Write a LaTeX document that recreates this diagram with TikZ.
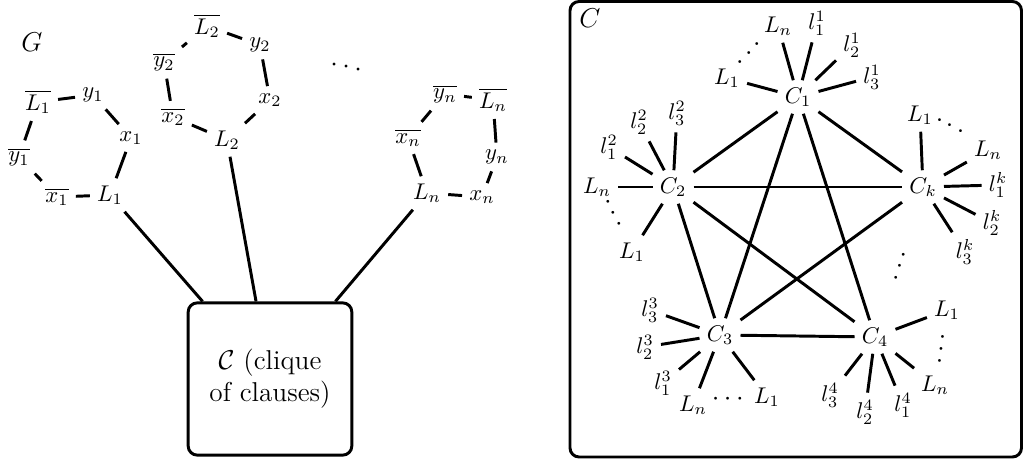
\documentclass[tikz,border=0pt]{standalone}
\usepackage{amsmath,amssymb}
\tikzset{
 lit/.style={inner sep=3pt},
 clause/.style={inner sep=3pt},
 big/.style={font=\large,inner sep=1pt},
 link/.style={line width=1.3pt},
 frame/.style={draw,rounded corners=4pt,line width=1.3pt},
 dotrow/.style={font=\large,inner sep=0pt},
}

\begin{document}
\begin{tikzpicture}[x=0.44pt,y=-0.44pt]
\useasboundingbox (0,0) rectangle (1024,461);

% variable gadgets
\node[big] at (32,42) {$G$};
\node[lit] (nl1) at (38,102) {$\overline{L_1}$};
\node[lit] (y1) at (93,95) {$y_1$};
\node[lit] (x1) at (131,138) {$x_1$};
\node[lit] (l1) at (110,195) {$L_1$};
\node[lit] (nx1) at (57,197) {$\overline{x_1}$};
\node[lit] (ny1) at (19,157) {$\overline{y_1}$};

\node[lit] (nl2) at (207,26) {$\overline{L_2}$};
\node[lit] (y2) at (260,45) {$y_2$};
\node[lit] (x2) at (270,100) {$x_2$};
\node[lit] (l2) at (227,140) {$L_2$};
\node[lit] (nx2) at (173,117) {$\overline{x_2}$};
\node[lit] (ny2) at (164,62) {$\overline{y_2}$};

\node[lit] (nln) at (493,100) {$\overline{L_n}$};
\node[lit] (yn) at (497,157) {$y_n$};
\node[lit] (xn) at (482,197) {$x_n$};
\node[lit] (ln) at (427,193) {$L_n$};
\node[lit] (nxn) at (408,138) {$\overline{x_n}$};
\node[lit] (nyn) at (445,94) {$\overline{y_n}$};

\foreach \i in {1,2,n}
  \foreach \a/\b in {nl/y,y/x,x/l,l/nx,nx/ny,ny/nl}
    \draw[link] (\a\i) -- (\b\i);

\node[dotrow,rotate=-11] at (349,68) {$\cdots$};

\node[frame,minimum width=72pt,minimum height=67pt,font=\large,align=center] (clique) at (270,379)
  {$\mathcal{C}$ (clique\\of clauses)};
\foreach \v in {l1,l2,ln}
  \draw[link] (\v) -- (clique);

% the clique of clauses
\draw[frame] (570,1.5) rectangle (1021.5,457);
\node[big] at (590,18) {$C$};

\node[clause] (c1) at (798,97) {$C_1$};
\node[clause] (c2) at (673,187) {$C_2$};
\node[clause] (ck) at (923,187) {$C_k$};
\node[clause] (c3) at (720,335) {$C_3$};
\node[clause] (c4) at (875,337) {$C_4$};

\node[lit] (c1L1) at (727,78) {$L_1$};
\node[lit] (c1Ln) at (778,26) {$L_n$};
\node[lit] (c1l1) at (817,23) {$l_1^1$};
\node[lit] (c1l2) at (852,45) {$l_2^1$};
\node[lit] (c1l3) at (872,77) {$l_3^1$};
\node[dotrow,rotate=46] at (751,52) {$\cdots$};

\node[lit] (c2L1) at (632,252) {$L_1$};
\node[lit] (c2Ln) at (597,187) {$L_n$};
\node[lit] (c2l1) at (609,147) {$l_1^2$};
\node[lit] (c2l2) at (639,122) {$l_2^2$};
\node[lit] (c2l3) at (677,113) {$l_3^2$};
\node[dotrow,rotate=-63] at (614,215) {$\cdots$};

\node[lit] (ckL1) at (920,115) {$L_1$};
\node[lit] (ckLn) at (988,150) {$L_n$};
\node[lit] (ckl1) at (998,185) {$l_1^k$};
\node[lit] (ckl2) at (992,223) {$l_2^k$};
\node[lit] (ckl3) at (965,252) {$l_3^k$};
\node[dotrow,rotate=-27] at (952,127) {$\cdots$};

\node[lit] (c3L1) at (767,397) {$L_1$};
\node[lit] (c3Ln) at (693,405) {$L_n$};
\node[lit] (c3l1) at (663,383) {$l_1^3$};
\node[lit] (c3l2) at (645,347) {$l_2^3$};
\node[lit] (c3l3) at (650,310) {$l_3^3$};
\node[dotrow] at (730,399) {$\cdots$};

\node[lit] (c4L1) at (947,310) {$L_1$};
\node[lit] (c4Ln) at (935,385) {$L_n$};
\node[lit] (c4l1) at (903,405) {$l_1^4$};
\node[lit] (c4l2) at (865,412) {$l_2^4$};
\node[lit] (c4l3) at (830,395) {$l_3^4$};
\node[dotrow,rotate=83] at (942,347) {$\cdots$};

\node[dotrow,rotate=72] at (901,264) {$\cdots$};

\foreach \c in {1,2,3,4,k}
  \foreach \t in {L1,Ln,l1,l2,l3}
    \draw[link] (c\c) -- (c\c\t);

\foreach \a/\b in {1/2,1/3,1/4,1/k,2/3,2/4,2/k,3/4,3/k}
  \draw[link] (c\a) -- (c\b);

\end{tikzpicture}
\end{document}
